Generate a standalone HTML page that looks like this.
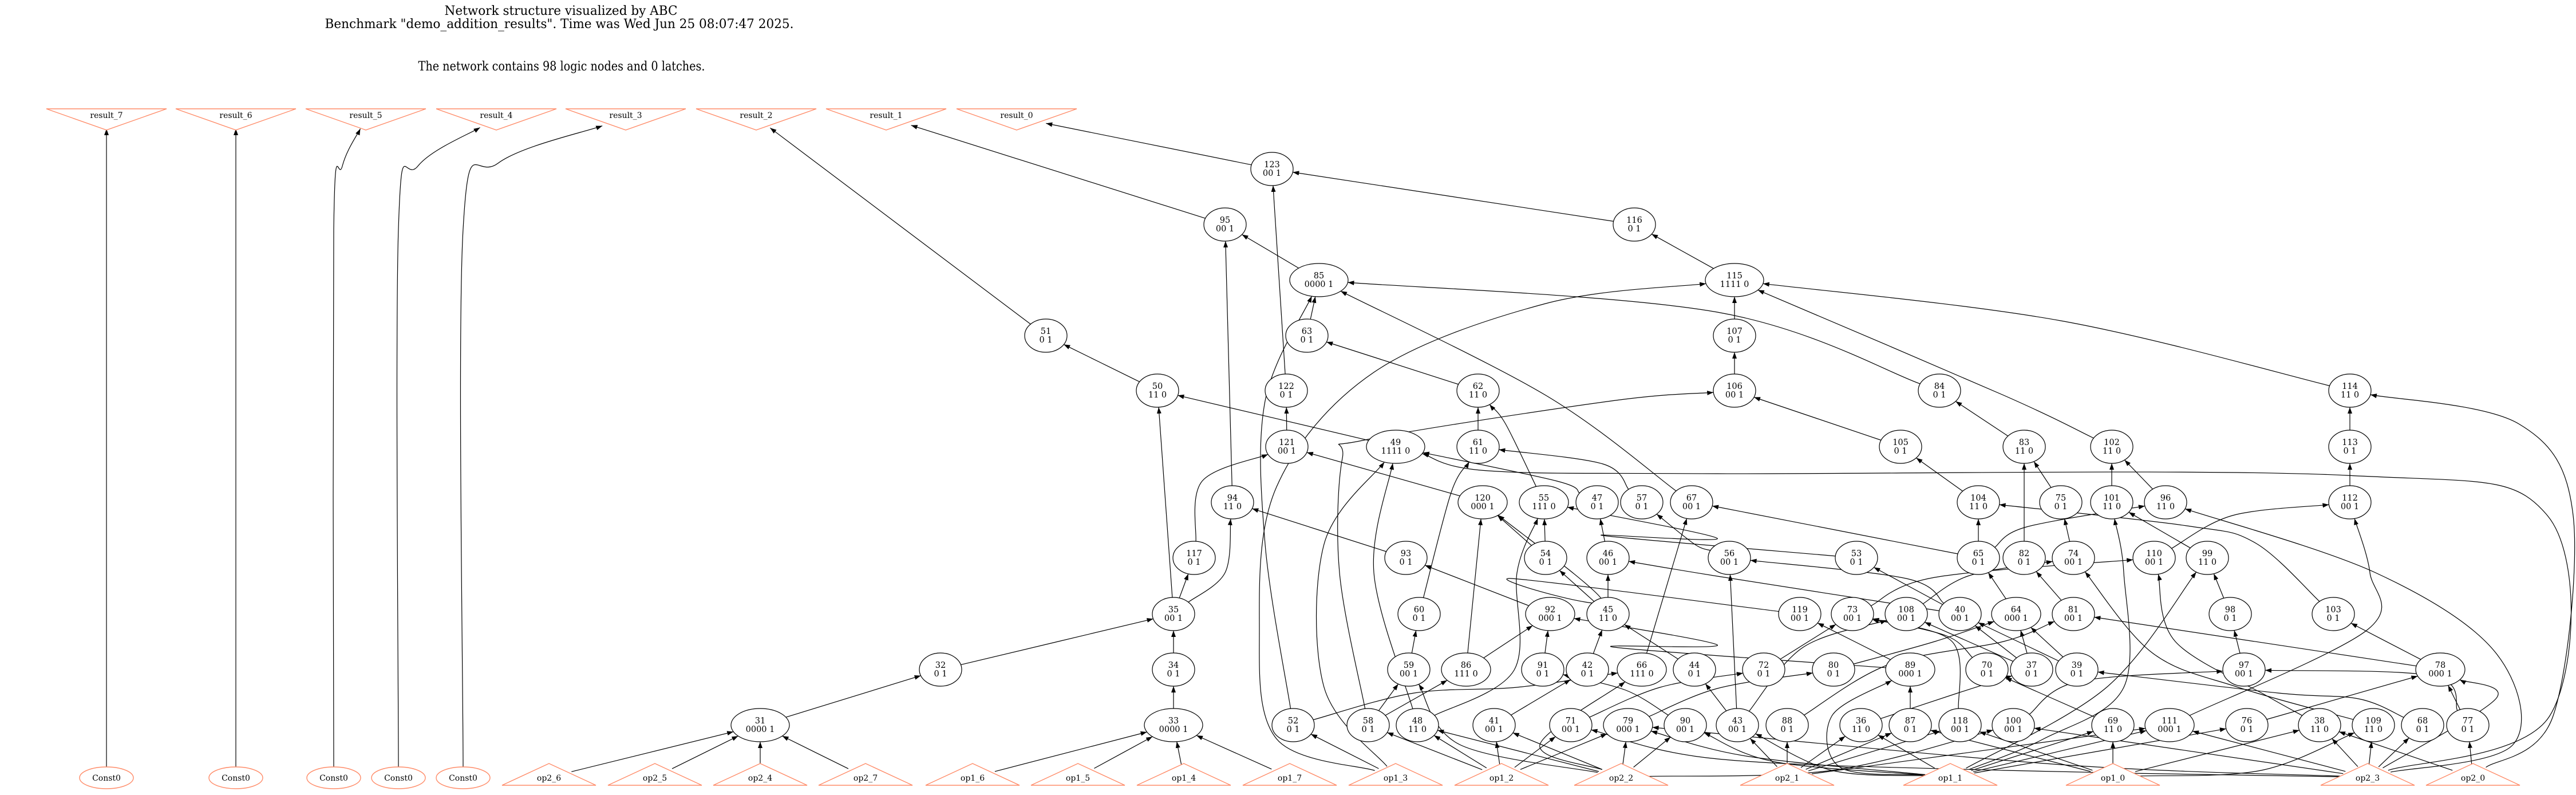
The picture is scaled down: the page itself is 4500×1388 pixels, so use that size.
<!DOCTYPE html>
<html><head><meta charset="utf-8">
<style>
html,body{margin:0;padding:0;background:#fff;}
svg{display:block;}
text{font-family:"DejaVu Serif","Liberation Serif",serif;fill:#000;}
</style></head>
<body>
<svg id="g" xmlns="http://www.w3.org/2000/svg" width="4500" height="1388" viewBox="0 0 4500 1388">
<defs>
<marker id="ah" markerWidth="11" markerHeight="8" refX="11" refY="4" orient="auto" markerUnits="userSpaceOnUse">
<path d="M0,0 L11,4 L0,8 Z" fill="#000"/>
</marker>
</defs>
<rect width="4500" height="1388" fill="#fff"/>
<text x="980" y="26" font-size="22" text-anchor="middle" textLength="407" lengthAdjust="spacingAndGlyphs">Network structure visualized by ABC</text>
<text x="977" y="49" font-size="22" text-anchor="middle" textLength="819" lengthAdjust="spacingAndGlyphs">Benchmark "demo_addition_results". Time was Wed Jun 25 08:07:47 2025.</text>
<text x="981" y="123" font-size="22" text-anchor="middle" textLength="501" lengthAdjust="spacingAndGlyphs">The network contains 98 logic nodes and 0 latches.</text>
<g id="edges" fill="none" stroke="#000" stroke-width="1.2"></g>
<g id="nodes"></g>
</svg>
<script>
var N={};
function E(id,x,y,rx,l2){N[id]={x:x,y:y,rx:rx||37,ry:29,t:'e',l1:id.slice(1),l2:l2};}
E('n123',2222,295,37,'00 1');
E('n95',2140,392,37,'00 1');E('n116',2855,392,37,'0 1');
E('n85',2304,489,51,'0000 1');E('n115',3030,489,51,'1111 0');
E('n51',1827,586,37,'0 1');E('n63',2283,586,37,'0 1');E('n107',3030,586,37,'0 1');
E('n50',2022,682,37,'11 0');E('n122',2247,682,37,'0 1');E('n62',2582,682,37,'11 0');E('n106',3030,682,37,'00 1');E('n84',3388,682,37,'0 1');E('n114',4105,682,37,'11 0');
E('n121',2248,780,37,'00 1');E('n49',2438,780,51,'1111 0');E('n61',2582,780,37,'11 0');E('n105',3320,780,37,'0 1');E('n83',3536,780,37,'11 0');E('n102',3689,780,37,'11 0');E('n113',4105,780,37,'0 1');
E('n94',2153,877,37,'11 0');E('n120',2590,877,43,'000 1');E('n55',2697,877,43,'111 0');E('n47',2790,877,37,'0 1');E('n57',2868,877,37,'0 1');E('n67',2955,877,37,'00 1');E('n104',3456,877,37,'11 0');E('n75',3600,877,37,'0 1');E('n101',3689,877,37,'11 0');E('n96',3783,877,37,'11 0');E('n112',4105,877,37,'00 1');
E('n117',2086,974,37,'0 1');E('n93',2456,974,37,'0 1');E('n54',2700,974,37,'0 1');E('n46',2809,974,37,'00 1');E('n56',3021,974,37,'00 1');E('n53',3243,974,37,'0 1');E('n65',3456,974,37,'0 1');E('n82',3536,974,37,'0 1');E('n74',3622,974,37,'00 1');E('n110',3763,974,37,'00 1');E('n99',3856,974,37,'11 0');
E('n35',2050,1072,37,'00 1');E('n60',2479,1072,37,'0 1');E('n92',2708,1072,43,'000 1');E('n45',2809,1072,37,'11 0');E('n119',3144,1072,37,'00 1');E('n73',3236,1072,37,'00 1');E('n108',3330,1072,37,'00 1');E('n40',3424,1072,37,'00 1');E('n64',3522,1072,43,'000 1');E('n81',3622,1072,37,'00 1');E('n98',3896,1072,37,'0 1');E('n103',4076,1072,37,'0 1');
E('n32',1643,1169,37,'0 1');E('n34',2050,1169,37,'0 1');E('n59',2461,1169,37,'00 1');E('n86',2561,1169,43,'111 0');E('n91',2695,1169,37,'0 1');E('n42',2773,1169,37,'0 1');E('n66',2868,1169,43,'111 0');E('n44',2960,1169,37,'0 1');E('n72',3081,1169,37,'0 1');E('n80',3203,1169,37,'0 1');E('n89',3337,1169,43,'000 1');E('n70',3471,1169,37,'0 1');E('n37',3549,1169,37,'0 1');E('n39',3628,1169,37,'0 1');E('n97',3920,1169,37,'00 1');E('n78',4263,1169,43,'000 1');
E('n31',1328,1266,51,'0000 1');E('n33',2050,1266,51,'0000 1');E('n52',2259,1266,37,'0 1');E('n58',2390,1266,37,'0 1');E('n48',2476,1266,37,'11 0');E('n41',2610,1266,37,'00 1');E('n71',2744,1266,37,'00 1');E('n79',2844,1266,43,'000 1');E('n90',2944,1266,37,'00 1');E('n43',3035,1266,37,'00 1');E('n88',3122,1266,37,'0 1');E('n36',3251,1266,37,'11 0');E('n87',3337,1266,37,'0 1');E('n118',3424,1266,37,'00 1');E('n100',3517,1266,37,'00 1');E('n69',3691,1266,37,'11 0');E('n111',3790,1266,43,'000 1');E('n76',3925,1266,37,'0 1');E('n38',4052,1266,37,'11 0');E('n109',4146,1266,37,'11 0');E('n68',4232,1266,37,'0 1');E('n77',4311,1266,37,'0 1');
var outs=[['r7',186,'result_7'],['r6',412,'result_6'],['r5',639,'result_5'],['r4',867,'result_4'],['r3',1093,'result_3'],['r2',1321,'result_2'],['r1',1548,'result_1'],['r0',1776,'result_0']];
outs.forEach(function(o){N[o[0]]={x:o[1],y:205,rx:60,ry:20,t:'o',lab:o[2]};});
var ins=[['op2_6',959],['op2_5',1144],['op2_4',1328],['op2_7',1512],['op1_6',1699],['op1_5',1883],['op1_4',2068],['op1_7',2253],['op1_3',2438],['op1_2',2623],['op2_2',2832],['op2_1',3122],['op1_1',3407],['op1_0',3691],['op2_3',4136],['op2_0',4320]];
ins.forEach(function(o){N[o[0]]={x:o[1],y:1357,rx:45,ry:20,t:'i',lab:o[0]};});
[186,412,583,696,809].forEach(function(x,i){N['c'+i]={x:x,y:1358,rx:47,ry:19,t:'c'};});

var ED=[
['c0','r7'],['c1','r6'],['c2','r5',[[583,400],[598,290]]],['c3','r4',[[696,400],[730,290]]],['c4','r3',[[809,400],[870,285]]],
['n51','r2'],['n95','r1'],['n123','r0'],['n116','n123'],['n122','n123'],['n85','n95'],['n94','n95'],['n115','n116'],['n63','n85'],
['n52','n85',[[2210,950],[2210,700]]],['n67','n85',[[2700,690]]],['n84','n85',[[3000,545]]],['n121','n122'],['n62','n63'],['n50','n51'],['n49','n50'],['n35','n50'],
['n117','n121',[[2100,840]]],['n120','n121'],['n93','n94'],['n35','n94',[[2140,1000]]],['n35','n117'],['n32','n35'],['n31','n32'],['n34','n35'],['n33','n34'],
['op1_6','n33'],['op1_5','n33'],['op1_4','n33'],['op1_7','n33'],['op2_6','n31'],['op2_5','n31'],['op2_4','n31'],['op2_7','n31'],
['op1_3','n49',[[2313,1200],[2313,950]]],['n48','n49',[[2400,1000]]],['n47','n49',[[2720,840]]],['op2_3','n49',[[4454,1250],[4450,900],[4100,830],[3000,827],[2600,822]]],
['n61','n62'],['n55','n62',[[2630,740]]],['n57','n61',[[2800,810]]],['n60','n61',[[2535,860]]],
['n58','n106',[[2340,1000],[2345,800],[2385,768],[2815,700]]],['n105','n106'],
['op1_3','n115',[[2230,1290],[2200,1100],[2230,850],[2400,650],[2700,530]]],
['n107','n115'],['n106','n107'],['n114','n115',[[3600,560]]],['n102','n115',[[3500,690]]],
['n86','n120'],['n54','n120'],['n119','n120',[[2640,1010],[2800,1050]]],['n54','n55'],['n53','n55',[[2800,935],[3000,940]]],['n46','n47'],['n56','n57',[[2960,950]]],['n66','n67'],['n65','n67',[[3000,885]]],
['n92','n93'],['n45','n54'],['n45','n46'],['n40','n46',[[3000,1006]]],['n86','n92'],['n91','n92'],['n89','n92',[[2820,1130],[3000,1126]]],['n42','n45'],['n44','n45'],['n59','n60'],['n58','n59'],['n58','n86'],
['n52','n66',[[2470,1210],[2650,1200]]],['n90','n91',[[2840,1205]]],['n41','n42'],['op2_2','n66',[[2690,1300]]],['n43','n44'],
['op1_3','n52'],['op1_2','n58'],['op1_2','n48'],['op2_2','n48'],['n48','n55',[[2645,1170],[2650,1000]]],['op2_2','n59',[[2550,1300]]],['op1_2','n41'],['op2_2','n41'],['op1_2','n71'],['op1_2','n79'],['op2_2','n79'],['op2_2','n90'],
['n71','n72',[[2900,1200]]],['n79','n80',[[3000,1202]]],
['n83','n84'],['n113','n114'],['op2_0','n114',[[4460,1250],[4495,900],[4400,740]]],['n104','n105'],['n75','n83'],['n82','n83'],['n101','n102'],['n96','n102'],['n112','n113'],['n65','n104'],['n74','n75'],
['n65','n96',[[3540,920]]],['n99','n101'],['op1_1','n101',[[3570,1290],[3710,1200],[3710,1000]]],['n103','n104',[[3940,948],[3820,918]]],['op2_3','n96',[[4390,1300],[4360,1140],[4150,1000]]],
['n110','n112',[[3900,900]]],['n111','n112',[[4135,1100],[4140,1000]]],
['n40','n53'],['n40','n56',[[3330,1010]]],['n43','n56'],['n64','n65'],['n81','n82'],['n108','n74',[[3440,1005]]],['n73','n110',[[3380,1008]]],['n109','n74',[[3910,1200],[3760,1140]]],['n38','n110',[[3960,1215],[3800,1120]]],
['op1_1','n99',[[3680,1200]]],['n98','n99'],['n97','n98'],['n78','n103'],['n78','n81'],['n72','n73'],['n89','n119'],['n70','n73',[[3400,1110]]],['n43','n108',[[3150,1130]]],['n118','n73',[[3410,1120]]],
['n37','n40'],['n39','n40'],['n37','n108'],['n37','n64'],['n80','n64',[[3380,1120]]],['n39','n64'],['n88','n81',[[3300,1160],[3500,1120]]],['n87','n89'],['op1_1','n89',[[3215,1340],[3200,1250]]],
['n100','n97',[[3630,1190]]],['n77','n97',[[4250,1180]]],['n68','n39',[[4120,1220],[3980,1210]]],['n69','n70'],['n36','n37',[[3420,1210]]],['n76','n78'],['n77','n78'],['op2_3','n78',[[4360,1220]]],
['op2_1','n43'],['op2_1','n88'],['op2_1','n36'],['op2_1','n87'],['op2_1','n118'],['op2_1','n111'],['op1_1','n36'],['op1_1','n43',[[3200,1345]]],['op1_1','n69'],['op1_1','n111'],['op1_1','n76'],
['op1_0','n87'],['op1_0','n118'],['op1_0','n69'],['op1_0','n38'],['op1_0','n109',[[3950,1345]]],['op2_3','n100'],['op2_3','n111'],['op2_3','n38'],['op2_3','n109'],['op2_3','n68'],['op2_0','n77'],['op2_0','n38'],
['op1_1','n90',[[3100,1330]]],['op2_2','n100',[[3200,1345]]],['op2_3','n79',[[3600,1335]]],['op2_3','n71',[[3500,1345],[3000,1325]]],['op1_1','n79',[[3050,1320]]]
];
function bd(n,px,py){var dx=px-n.x,dy=py-n.y;if(dx==0&&dy==0)return [n.x,n.y];var t=1/Math.sqrt((dx/n.rx)*(dx/n.rx)+(dy/n.ry)*(dy/n.ry));return [n.x+dx*t,n.y+dy*t];}
var eg=document.getElementById('edges'),ng=document.getElementById('nodes'),NS='http://www.w3.org/2000/svg';
function f(v){return v.toFixed(1);}
ED.forEach(function(e){var s=N[e[0]],d=N[e[1]];if(!s||!d)return;var v=e[2]||[];
var first=v.length?v[0]:[d.x,d.y],last=v.length?v[v.length-1]:[s.x,s.y];
var p=[bd(s,first[0],first[1])].concat(v).concat([bd(d,last[0],last[1])]);
var str='M'+f(p[0][0])+','+f(p[0][1]);
for(var i=0;i<p.length-1;i++){var p0=p[i-1]||p[i],p1=p[i],p2=p[i+1],p3=p[i+2]||p[i+1];
var c1=[p1[0]+(p2[0]-p0[0])/6,p1[1]+(p2[1]-p0[1])/6],c2=[p2[0]-(p3[0]-p1[0])/6,p2[1]-(p3[1]-p1[1])/6];
str+=' C'+f(c1[0])+','+f(c1[1])+' '+f(c2[0])+','+f(c2[1])+' '+f(p2[0])+','+f(p2[1]);}
var pa=document.createElementNS(NS,'path');pa.setAttribute('d',str);pa.setAttribute('marker-end','url(#ah)');eg.appendChild(pa);});
var html='';var C='#ff8c69';
for(var k in N){var n=N[k];
if(n.t=='e'){html+='<ellipse cx="'+n.x+'" cy="'+n.y+'" rx="'+n.rx+'" ry="29" fill="#fff" stroke="#000" stroke-width="1.2"/>'+
'<text x="'+n.x+'" y="'+(n.y-3)+'" font-size="14.5" text-anchor="middle">'+n.l1+'</text>'+
'<text x="'+n.x+'" y="'+(n.y+12)+'" font-size="14.5" text-anchor="middle">'+n.l2+'</text>';}
else if(n.t=='o'){html+='<polygon points="'+(n.x-105)+',190 '+(n.x+105)+',190 '+n.x+',227" fill="#fff" stroke="'+C+'" stroke-width="1.4"/>'+
'<text x="'+n.x+'" y="206" font-size="14" text-anchor="middle">'+n.lab+'</text>';}
else if(n.t=='i'){html+='<polygon points="'+(n.x-82)+',1371 '+(n.x+82)+',1371 '+n.x+',1333" fill="#fff" stroke="'+C+'" stroke-width="1.4"/>'+
'<text x="'+n.x+'" y="1363" font-size="14" text-anchor="middle">'+n.lab+'</text>';}
else {html+='<ellipse cx="'+n.x+'" cy="1358" rx="47" ry="19" fill="#fff" stroke="'+C+'" stroke-width="1.4"/>'+
'<text x="'+n.x+'" y="1363" font-size="14" text-anchor="middle">Const0</text>';}}
ng.innerHTML=html;
</script>
</body></html>
